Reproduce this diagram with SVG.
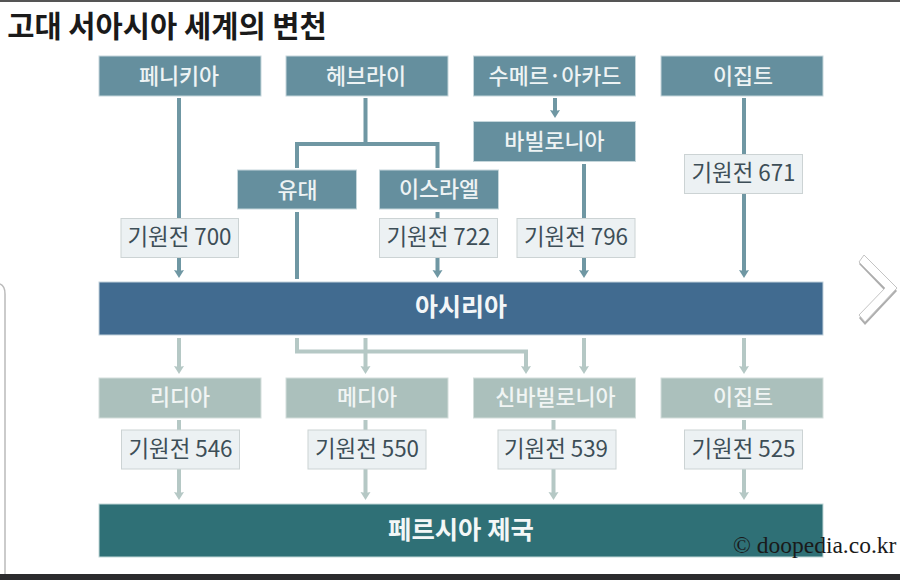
<svg xmlns="http://www.w3.org/2000/svg" width="900" height="580" viewBox="0 0 900 580">
<style>
text{font-family:"Noto Sans CJK KR","Noto Sans",sans-serif;text-anchor:middle}
.n rect{fill:#658f9e;stroke:#c5d6db;stroke-width:1}
.n text{fill:#eef3f4;font-size:21.8px;font-weight:500}
.l rect{fill:#abc0bc;stroke:#d3dedb;stroke-width:1}
.l text{fill:#f1f5f4;font-size:21.8px;font-weight:500}
.d rect{fill:#ecf1f3;stroke:#ccd3d4;stroke-width:1}
.d text{fill:#3d4e57;font-size:22.4px;font-weight:400}
.c1{fill:none;stroke:#6f97a3;stroke-width:4}
.c2{fill:none;stroke:#b5c8c5;stroke-width:4}
</style>
<defs>
<marker id="a1" markerUnits="userSpaceOnUse" markerWidth="12" markerHeight="10" refX="6" refY="4" viewBox="0 0 12 10"><path d="M1 1 6 2 11 1 6 9Z" fill="#6f97a3"/></marker>
<marker id="a2" markerUnits="userSpaceOnUse" markerWidth="12" markerHeight="10" refX="6" refY="4" viewBox="0 0 12 10"><path d="M1 1 6 2 11 1 6 9Z" fill="#b5c8c5"/></marker>
</defs>
<rect width="900" height="580" fill="#fff"/>
<rect width="900" height="2" fill="#555"/>
<rect y="574" width="900" height="6" fill="#2b2b2d"/>
<path d="M0 284Q5 286 5 294V574" fill="none" stroke="#bbb" stroke-width="1.500"/>
<text id="title" x="167" y="37" style="font-size:29.600px;font-weight:700;fill:#1a1a1a">고대 서아시아 세계의 변천</text>
<g id="connectors">
<path class="c1" d="M179 98V218"/>
<path class="c1" d="M179 257V273" marker-end="url(#a1)"/>
<path class="c1" d="M365.500 98V144M297 168V144H437.500V168"/>
<path class="c1" d="M297 212V279"/>
<path class="c1" d="M437.500 212V218"/>
<path class="c1" d="M437.500 257V273" marker-end="url(#a1)"/>
<path class="c1" d="M555 98V113" marker-end="url(#a1)"/>
<path class="c1" d="M584 164V218"/>
<path class="c1" d="M584 257V273" marker-end="url(#a1)"/>
<path class="c1" d="M744 98V154"/>
<path class="c1" d="M744 193V273" marker-end="url(#a1)"/>
<path class="c2" d="M179 338V369" marker-end="url(#a2)"/>
<path class="c2" d="M365.500 338V369" marker-end="url(#a2)"/>
<path class="c2" d="M297 338V351.500H526V369" marker-end="url(#a2)"/>
<path class="c2" d="M584 338V369" marker-end="url(#a2)"/>
<path class="c2" d="M744 338V369" marker-end="url(#a2)"/>
<path class="c2" d="M179 420V430M179 469V495" marker-end="url(#a2)"/>
<path class="c2" d="M365.500 420V430M365.500 469V495" marker-end="url(#a2)"/>
<path class="c2" d="M553.500 420V430M553.500 469V495" marker-end="url(#a2)"/>
<path class="c2" d="M744 420V430M744 469V495" marker-end="url(#a2)"/>
</g>
<g id="phoenicia" class="n"><rect x="99" y="56" width="162" height="40"/><text x="179" y="84">페니키아</text></g>
<g id="hebrew" class="n"><rect x="286" y="56" width="162" height="40"/><text x="366" y="84">헤브라이</text></g>
<g id="sumer" class="n"><rect x="473.500" y="56" width="162" height="40"/><text x="555" y="84">수메르·아카드</text></g>
<g id="egypt1" class="n"><rect x="661" y="56" width="162" height="40"/><text x="743" y="84">이집트</text></g>
<g id="babylonia" class="n"><rect x="473.500" y="121.500" width="162" height="40"/><text x="554.500" y="149">바빌로니아</text></g>
<g id="judah" class="n"><rect x="237.500" y="170" width="119" height="39"/><text x="297.500" y="198">유대</text></g>
<g id="israel" class="n"><rect x="379.500" y="170" width="119" height="39"/><text x="439" y="197">이스라엘</text></g>
<g id="d700" class="d"><rect x="121" y="218.500" width="117.500" height="39"/><text x="179.500" y="245">기원전 700</text></g>
<g id="d722" class="d"><rect x="379.500" y="218.500" width="118" height="39"/><text x="438.500" y="245">기원전 722</text></g>
<g id="d796" class="d"><rect x="517" y="218.500" width="118" height="39"/><text x="576" y="245">기원전 796</text></g>
<g id="d671" class="d"><rect x="684.500" y="154.500" width="118" height="39"/><text x="743.500" y="181">기원전 671</text></g>
<g id="assyria"><rect x="99" y="282" width="724" height="53" fill="#416b90" stroke="#c2d2dc"/><text x="461" y="316" style="font-size:25px;font-weight:700;fill:#f3f6f8">아시리아</text></g>
<g id="lydia" class="l"><rect x="99" y="378" width="162" height="40"/><text x="180" y="405">리디아</text></g>
<g id="media" class="l"><rect x="286" y="378" width="162" height="40"/><text x="367" y="405">메디아</text></g>
<g id="neobabylonia" class="l"><rect x="473.500" y="378" width="162" height="40"/><text x="555.500" y="405">신바빌로니아</text></g>
<g id="egypt2" class="l"><rect x="661" y="378" width="162" height="40"/><text x="743" y="405">이집트</text></g>
<g id="d546" class="d"><rect x="121.500" y="430" width="118" height="39"/><text x="180.500" y="457">기원전 546</text></g>
<g id="d550" class="d"><rect x="308" y="430" width="118" height="39"/><text x="367" y="457">기원전 550</text></g>
<g id="d539" class="d"><rect x="498" y="430" width="118" height="39"/><text x="556" y="457">기원전 539</text></g>
<g id="d525" class="d"><rect x="684.500" y="430" width="118" height="39"/><text x="743.500" y="457">기원전 525</text></g>
<g id="persia"><rect x="99" y="504" width="724" height="53" fill="#2f7076" stroke="#c2d8d8"/><text x="461" y="539" style="font-size:25.400px;font-weight:700;fill:#f3f7f7">페르시아 제국</text></g>
<path d="M859 264 864 258 897 291 865 325 859 318 885 291Z" fill="#8a8a8a" opacity=".7"/>
<path d="M859 262 864 255 897 288 865 322 859 315 885 288Z" fill="#fff" stroke="#c4c4c4" stroke-width="1" stroke-linejoin="round"/>
<text x="733" y="553" style="font-family:'Liberation Serif',serif;font-size:23.500px;fill:#1a1a1a;text-anchor:start">© doopedia.co.kr</text>
</svg>
